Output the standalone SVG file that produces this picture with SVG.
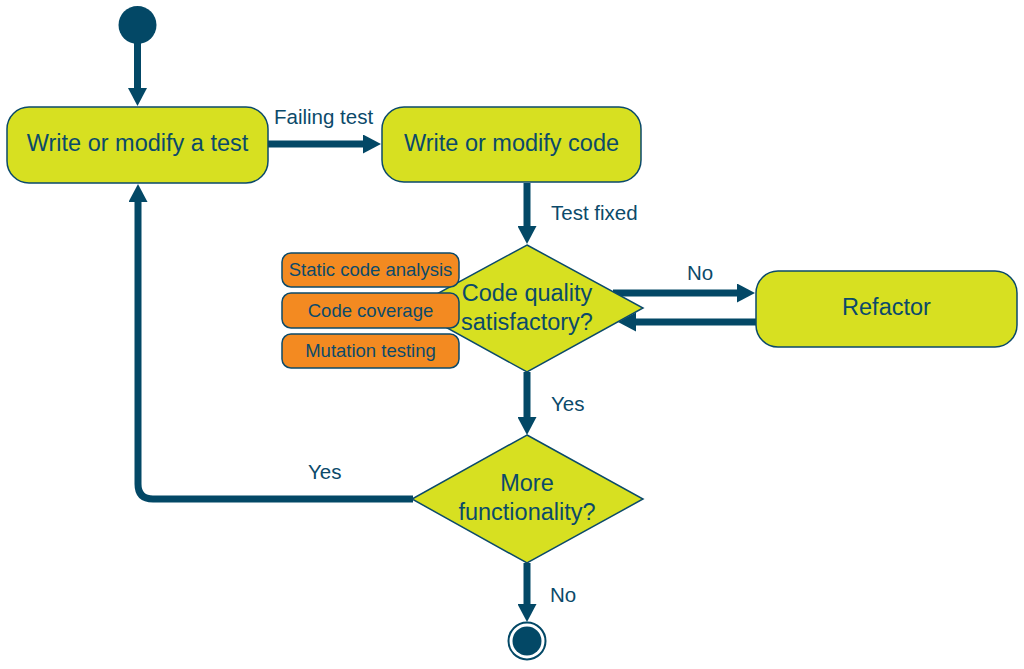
<svg xmlns="http://www.w3.org/2000/svg" width="1024" height="669" viewBox="0 0 1024 669">
<style>
.t{font-family:"Liberation Sans",Arial,sans-serif;fill:#0b4a6a;}
.big{font-size:23.5px;text-anchor:middle;}
.lbl{font-size:20.5px;}
.sm{font-size:18.5px;text-anchor:middle;}
.act{fill:#d7e021;stroke:#0b4a6a;stroke-width:1.5;}
.org{fill:#f38a21;stroke:#0b4a6a;stroke-width:1.5;}
.con{fill:none;stroke:#034866;stroke-width:7;}
</style>
<defs>
<marker id="ah" markerUnits="userSpaceOnUse" markerWidth="19" markerHeight="19" refX="2" refY="9.5" orient="auto">
<path d="M0,0 L18,9.5 L0,19 z" fill="#034866"/>
</marker>
</defs>
<g id="connectors">
<line class="con" x1="137.5" y1="40" x2="137.5" y2="90" marker-end="url(#ah)"/>
<line class="con" x1="268" y1="144" x2="365" y2="144" marker-end="url(#ah)"/>
<line class="con" x1="527" y1="183" x2="527" y2="228" marker-end="url(#ah)"/>
<line class="con" x1="613" y1="293" x2="739" y2="293" marker-end="url(#ah)"/>
<line class="con" x1="756" y1="322" x2="634" y2="322" marker-end="url(#ah)"/>
<line class="con" x1="527" y1="372" x2="527" y2="419" marker-end="url(#ah)"/>
<line class="con" x1="527" y1="563" x2="527" y2="606" marker-end="url(#ah)"/>
<path class="con" d="M413,499 H153 Q138,499 138,484 V200" marker-end="url(#ah)"/>
<text class="t lbl" x="274" y="124">Failing test</text>
<text class="t lbl" x="551" y="220">Test fixed</text>
<text class="t lbl" x="687" y="280">No</text>
<text class="t lbl" x="551" y="411">Yes</text>
<text class="t lbl" x="308" y="479">Yes</text>
<text class="t lbl" x="550" y="602">No</text>
</g>
<g id="start"><circle cx="137.5" cy="25" r="19" fill="#034866"/></g>
<g id="write-test">
<rect class="act" x="7" y="107" width="261" height="76" rx="22"/>
<text class="t big" x="137.5" y="151">Write or modify a test</text>
</g>
<g id="write-code">
<rect class="act" x="382" y="107" width="259" height="75" rx="22"/>
<text class="t big" x="511.5" y="151">Write or modify code</text>
</g>
<g id="quality">
<polygon class="act" points="527,245 643,308 527,372 411,308"/>
<text class="t big" x="527" y="301">Code quality</text>
<text class="t big" x="527" y="330">satisfactory?</text>
</g>
<g id="static"><rect class="org" x="282" y="253" width="177" height="34" rx="9"/><text class="t sm" x="370.5" y="276">Static code analysis</text></g>
<g id="coverage"><rect class="org" x="282" y="293" width="177" height="35" rx="9"/><text class="t sm" x="370.5" y="317">Code coverage</text></g>
<g id="mutation"><rect class="org" x="282" y="334" width="177" height="34" rx="9"/><text class="t sm" x="370.5" y="357">Mutation testing</text></g>
<g id="refactor">
<rect class="act" x="756" y="271" width="261" height="76" rx="22"/>
<text class="t big" x="886.5" y="315">Refactor</text>
</g>
<g id="more">
<polygon class="act" points="527,435 643,499 527,563 412,499"/>
<text class="t big" x="527" y="491">More</text>
<text class="t big" x="527" y="520">functionality?</text>
</g>
<g id="end">
<circle cx="527" cy="641" r="18.5" fill="#fff" stroke="#034866" stroke-width="2"/>
<circle cx="527" cy="641" r="14.5" fill="#034866"/>
</g>
</svg>
